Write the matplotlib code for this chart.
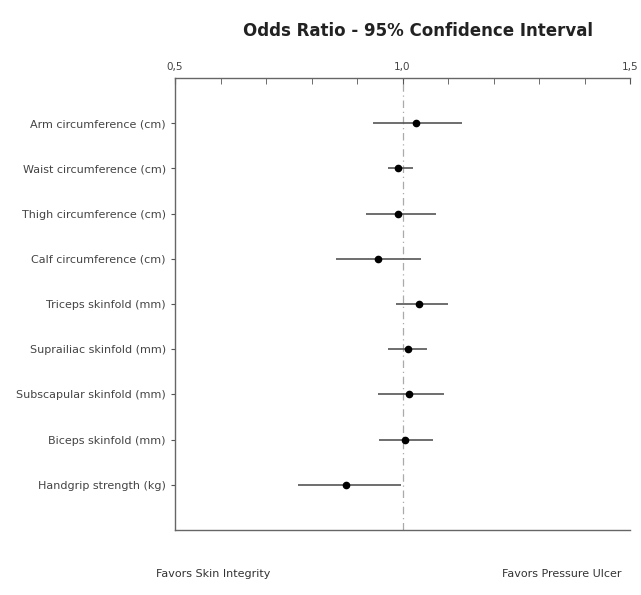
import numpy as np
import matplotlib.pyplot as plt

labels = ["Arm circumference (cm)", "Waist circumference (cm)",
          "Thigh circumference (cm)", "Calf circumference (cm)",
          "Triceps skinfold (mm)", "Suprailiac skinfold (mm)",
          "Subscapular skinfold (mm)", "Biceps skinfold (mm)",
          "Handgrip strength (kg)"]
odds = [1.03, 0.99, 0.989, 0.945, 1.037, 1.011, 1.015, 1.005, 0.875]
ci_low = [0.934, 0.967, 0.919, 0.853, 0.985, 0.969, 0.947, 0.949, 0.771]
ci_high = [1.13, 1.022, 1.073, 1.04, 1.099, 1.053, 1.09, 1.068, 0.996]
xtick_labels = ["0,5", "1,0", "1,5"]

fig = plt.figure(figsize=(6.41, 5.95), dpi=100)
ax = fig.add_axes([0.273, 0.109, 0.71, 0.760])

y = np.arange(len(labels))
odds = np.array(odds)
err = [odds - np.array(ci_low), np.array(ci_high) - odds]

ax.axvline(1.0, color="#aaaaaa", lw=0.9, ls=(0, (6, 3, 1, 3)), zorder=1)
ax.errorbar(odds, y, xerr=err, fmt="o", color="black", ecolor="#555555",
            elinewidth=1.2, capsize=0, markersize=4.5, zorder=3)

ax.set_xlim(0.5, 1.5)
ax.set_ylim(len(labels), -1)
ax.set_yticks(y)
ax.set_yticklabels(labels, fontsize=8, color="#444444")

# odds ratio scale on top
ax.xaxis.tick_top()
ax.set_xticks([0.5, 1.0, 1.5])
ax.set_xticklabels(xtick_labels, fontsize=7.5, color="#444444")
ax.set_xticks(np.arange(0.6, 1.5, 0.1), minor=True)
ax.tick_params(axis="x", which="both", direction="in", length=4, color="#555555", pad=4)
ax.tick_params(axis="y", length=3, color="#555555")

for side in ["left", "top", "bottom"]:
    ax.spines[side].set_color("#666666")
    ax.spines[side].set_linewidth(1.0)
ax.spines["right"].set_visible(False)

fig.text(0.652, 0.948, "Odds Ratio - 95% Confidence Interval", ha="center",
         va="center", fontsize=12, fontweight="bold", color="#222222")
fig.text(0.333, 0.035, "Favors Skin Integrity", ha="center", va="center",
         fontsize=8, color="#333333")
fig.text(0.877, 0.035, "Favors Pressure Ulcer", ha="center", va="center",
         fontsize=8, color="#333333")

fig.savefig("out.png", dpi=100)
